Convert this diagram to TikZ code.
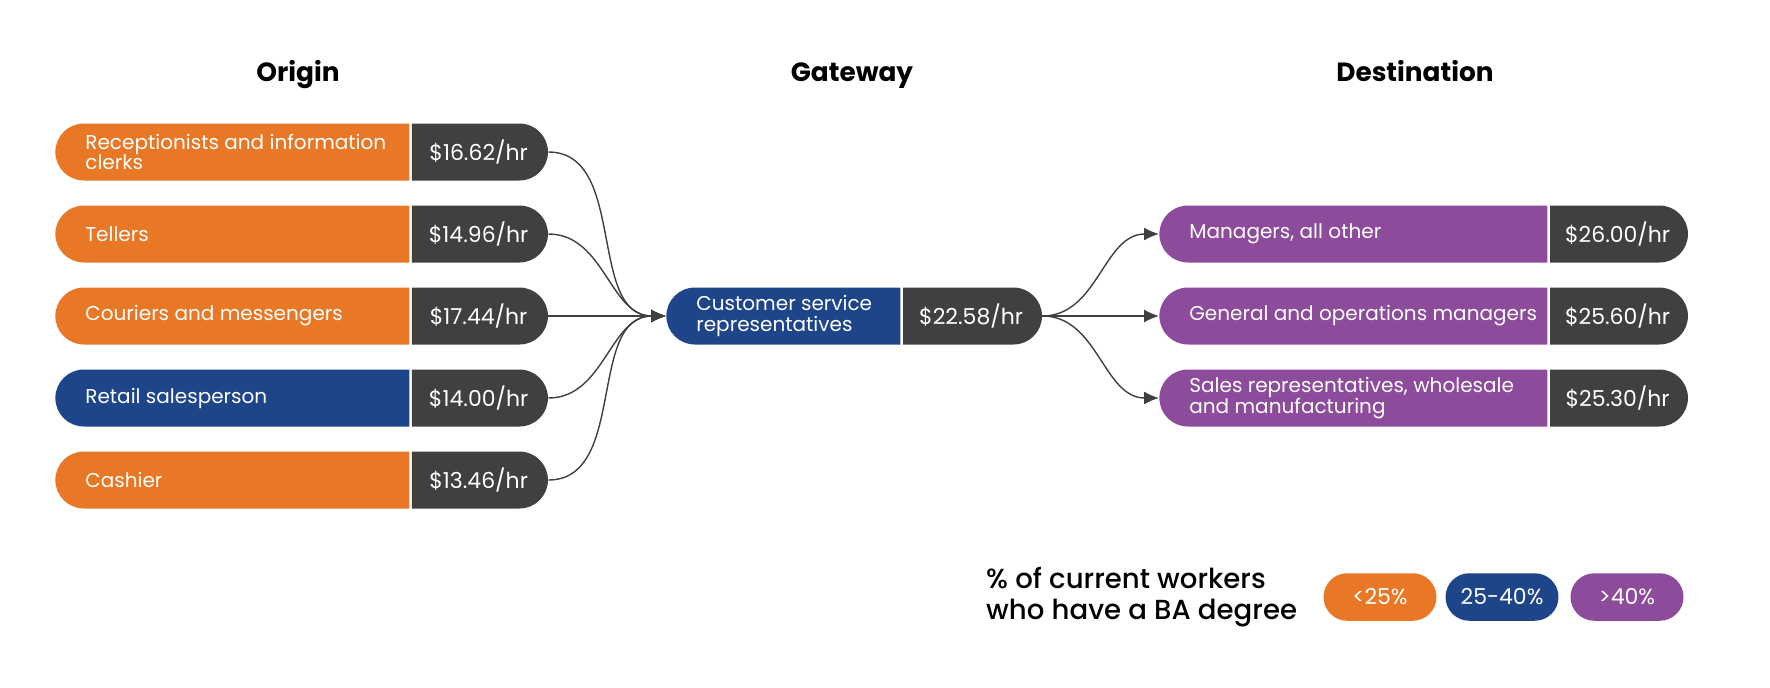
\documentclass[tikz,border=0pt]{standalone}
\usepackage{fontspec}
\setmainfont{Poppins}
\IfFontExistsTF{Poppins Medium}{\newfontfamily\medfont{Poppins Medium}}{\newfontfamily\medfont{Poppins}}
\usepackage{tikz}
\usetikzlibrary{shapes.misc, arrows.meta, positioning}
\definecolor{myorange}{RGB}{232,120,37}
\definecolor{myblue}{RGB}{30,69,137}
\definecolor{mypurple}{RGB}{141,75,155}
\definecolor{mydark}{RGB}{64,64,64}
\tikzset{
  jobbox/.style={rounded rectangle, rounded rectangle right arc=none,
    minimum height=1.14cm, inner sep=0pt, anchor=west},
  paybox/.style={rounded rectangle, rounded rectangle left arc=none,
    fill=mydark, text=white, minimum height=1.14cm, minimum width=#1,
    inner sep=0pt, font=\fontsize{12.5}{14}\selectfont},
  jobtext/.style={inner sep=0pt, align=left, text=white,
    font=\fontsize{11.4}{11.8}\selectfont},
  head/.style={anchor=base, font=\fontsize{15}{17}\selectfont\bfseries},
  keybox/.style={rounded rectangle, minimum width=2.26cm,
    minimum height=0.95cm, text=white, inner sep=0pt,
    font=\fontsize{12.5}{14}\selectfont},
  link/.style={-{Latex[length=0.3cm, width=0.26cm]}, line width=0.8pt,
    color=mydark}
}

\begin{document}
\begin{tikzpicture}[x=0.02cm, y=-0.02cm]
  \useasboundingbox (0,0) rectangle (1770,687);

  % Column headings
  \node[head] (horigin) at (298,81) {Origin};
  \node[head] (hgate) at (852,81) {Gateway};
  \node[head] (hdest) at (1415,81) {Destination};

  % Origin jobs
  \node[jobbox, fill=myorange, minimum width=7.08cm] (o1) at (55,152) {};
  \node[paybox=2.72cm, right=0.04cm of o1.east] (o1p) {\$16.62/hr};
  \node[jobtext, right=0.6cm of o1.west] (o1t) {Receptionists and information\\clerks};

  \node[jobbox, fill=myorange, minimum width=7.08cm] (o2) at (55,234) {};
  \node[paybox=2.72cm, right=0.04cm of o2.east] (o2p) {\$14.96/hr};
  \node[jobtext, right=0.6cm of o2.west] (o2t) {Tellers};

  \node[jobbox, fill=myorange, minimum width=7.08cm] (o3) at (55,316) {};
  \node[paybox=2.72cm, right=0.04cm of o3.east] (o3p) {\$17.44/hr};
  \node[jobtext, right=0.6cm of o3.west] (o3t) {Couriers and messengers};

  \node[jobbox, fill=myblue, minimum width=7.08cm] (o4) at (55,398) {};
  \node[paybox=2.72cm, right=0.04cm of o4.east] (o4p) {\$14.00/hr};
  \node[jobtext, right=0.6cm of o4.west] (o4t) {Retail salesperson};

  \node[jobbox, fill=myorange, minimum width=7.08cm] (o5) at (55,480) {};
  \node[paybox=2.72cm, right=0.04cm of o5.east] (o5p) {\$13.46/hr};
  \node[jobtext, right=0.6cm of o5.west] (o5t) {Cashier};

  % Gateway job
  \node[jobbox, fill=myblue, minimum width=4.68cm] (g) at (666,316) {};
  \node[paybox=2.78cm, right=0.04cm of g.east] (gp) {\$22.58/hr};
  \node[jobtext, right=0.6cm of g.west] (gt) {Customer service\\representatives};

  % Destination jobs
  \node[jobbox, fill=mypurple, minimum width=7.76cm] (d1) at (1159,234) {};
  \node[paybox=2.76cm, right=0.04cm of d1.east] (d1p) {\$26.00/hr};
  \node[jobtext, right=0.6cm of d1.west] (d1t) {Managers, all other};

  \node[jobbox, fill=mypurple, minimum width=7.76cm] (d2) at (1159,316) {};
  \node[paybox=2.76cm, right=0.04cm of d2.east] (d2p) {\$25.60/hr};
  \node[jobtext, right=0.6cm of d2.west] (d2t) {General and operations managers};

  \node[jobbox, fill=mypurple, minimum width=7.76cm] (d3) at (1159,398) {};
  \node[paybox=2.76cm, right=0.04cm of d3.east] (d3p) {\$25.30/hr};
  \node[jobtext, right=0.6cm of d3.west] (d3t) {Sales representatives, wholesale\\and manufacturing};

  % Links into the gateway
  \draw[link] (o1p.east) to[out=0, in=180] (g.west);
  \draw[link] (o2p.east) to[out=0, in=180] (g.west);
  \draw[link] (o3p.east) to[out=0, in=180] (g.west);
  \draw[link] (o4p.east) to[out=0, in=180] (g.west);
  \draw[link] (o5p.east) to[out=0, in=180] (g.west);

  % Links out of the gateway
  \draw[link] (gp.east) to[out=0, in=180] (d1.west);
  \draw[link] (gp.east) to[out=0, in=180] (d2.west);
  \draw[link] (gp.east) to[out=0, in=180] (d3.west);

  % Legend
  \node[anchor=west, align=left, font=\medfont\fontsize{15.7}{18}\selectfont] (keylabel)
    at (980,597) {\% of current workers\\who have a BA degree};
  \node[keybox, fill=myorange] (k1) at (1380,597) {<25\%};
  \node[keybox, fill=myblue] (k2) at (1502,597) {25-40\%};
  \node[keybox, fill=mypurple] (k3) at (1627,597) {>40\%};
\end{tikzpicture}
\end{document}
